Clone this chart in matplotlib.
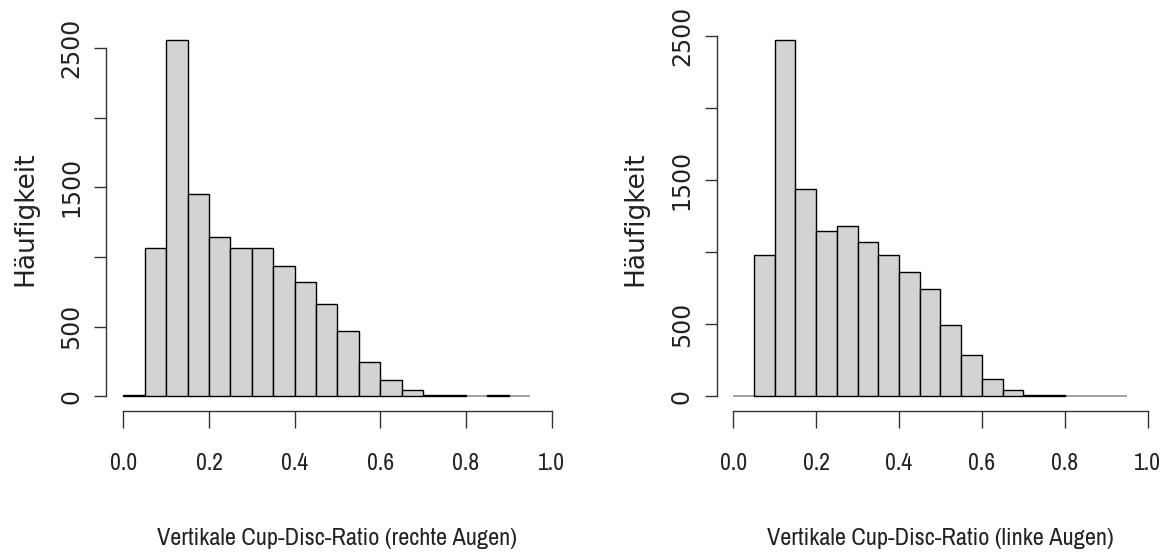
import matplotlib
matplotlib.use("Agg")
import matplotlib.pyplot as plt

# bin edges of the histograms (width 0.05)
bin_edges = [0.00, 0.05, 0.10, 0.15, 0.20, 0.25, 0.30, 0.35, 0.40, 0.45,
             0.50, 0.55, 0.60, 0.65, 0.70, 0.75, 0.80, 0.85, 0.90, 0.95]

# counts per bin
counts_rechts = [10, 1065, 2557, 1456, 1145, 1065, 1065, 934, 821, 666,
                 469, 244, 115, 43, 10, 10, 0, 10, 0]
counts_links = [0, 979, 2472, 1442, 1148, 1185, 1072, 979, 863, 748,
                493, 285, 123, 42, 8, 8, 0, 0, 0]

x_ticks = [0.0, 0.2, 0.4, 0.6, 0.8, 1.0]
x_tick_labels = ["0.0", "0.2", "0.4", "0.6", "0.8", "1.0"]
y_ticks = [0, 500, 1000, 1500, 2000, 2500]
y_tick_labels = ["0", "500", "", "1500", "", "2500"]

y_title = "Häufigkeit"
x_titles = ["Vertikale Cup-Disc-Ratio (rechte Augen)",
            "Vertikale Cup-Disc-Ratio (linke Augen)"]

narrow = ["Archivo Narrow", "DejaVu Sans"]
wide = ["DejaVu Sans"]
text_col = "#222222"
line_col = "#333333"

fig = plt.figure(figsize=(11.68, 5.58), dpi=100)
ax_r = fig.add_axes([0.0909, 0.2643, 0.3961, 0.6891])
ax_l = fig.add_axes([0.6136, 0.2643, 0.3832, 0.6891])


def draw_hist(ax, counts, xtitle):
    lefts = bin_edges[:-1]
    widths = [b - a for a, b in zip(bin_edges[:-1], bin_edges[1:])]
    # baseline along the full range of the bins
    ax.plot([bin_edges[0], bin_edges[-1]], [0, 0], color="#9a9a9a", lw=1.3,
            zorder=1, solid_capstyle="butt")
    edge_cols = ["black" if c > 0 else "none" for c in counts]
    ax.bar(lefts, counts, width=widths, align="edge", color="#D3D3D3",
           edgecolor=edge_cols, linewidth=1.0, zorder=2)

    # R-style limits: 4% padding around the data range
    top = max(counts)
    ax.set_xlim(-0.04, 1.04)
    ax.set_ylim(-0.04 * top, 1.04 * top)

    for s in ["top", "right"]:
        ax.spines[s].set_visible(False)
    ax.spines["left"].set_bounds(y_ticks[0], y_ticks[-1])
    ax.spines["bottom"].set_bounds(x_ticks[0], x_ticks[-1])
    for s in ["left", "bottom"]:
        ax.spines[s].set_color(line_col)
        ax.spines[s].set_linewidth(1.0)

    ax.set_xticks(x_ticks)
    ax.set_xticklabels(x_tick_labels, family=narrow, fontsize=17, color=text_col)
    ax.set_yticks(y_ticks)
    ax.set_yticklabels(y_tick_labels, family=wide, fontsize=17, color=text_col,
                       rotation=90, va="center")
    ax.tick_params(axis="x", direction="out", length=12.5, width=1.0,
                   color=line_col, pad=18)
    ax.tick_params(axis="y", direction="out", length=8.5, width=1.0,
                   color=line_col, pad=8)

    ax.set_ylabel(y_title, family=wide, fontsize=19, color=text_col)
    ax.yaxis.label.set_va("center")
    ax.yaxis.set_label_coords(-81 / (ax.get_position().width * 1168), 0.5)
    ax.set_xlabel(xtitle, family=narrow, fontsize=17.5, color=text_col)
    ax.xaxis.label.set_va("center")
    ax.xaxis.set_label_coords(0.5, -127.5 / 384.5)


draw_hist(ax_r, counts_rechts, x_titles[0])
draw_hist(ax_l, counts_links, x_titles[1])

fig.savefig("out.png", dpi=100)
